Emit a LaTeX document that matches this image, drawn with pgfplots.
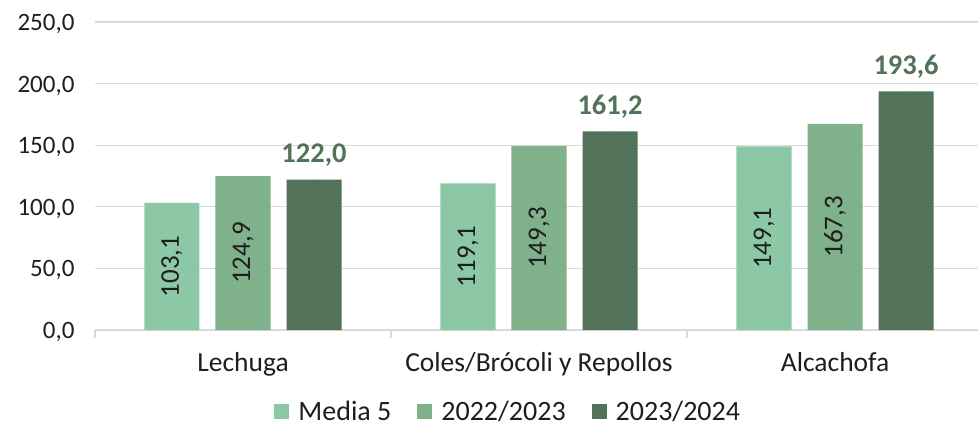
\documentclass[border=0pt]{standalone}
\usepackage{pgfplots}
\usepackage{pgfplotstable}
\pgfplotsset{compat=1.18}
\usepackage{fontspec}
\setmainfont{Carlito}
\definecolor{cA}{HTML}{8CC8A6}
\definecolor{cB}{HTML}{7FB18A}
\definecolor{cC}{HTML}{52735A}
\definecolor{gridc}{HTML}{D9D9D9}
\definecolor{txt}{HTML}{1E1E1E}
\pgfplotstableread{
x m5 a b
0 103.1 124.9 122.0
1 119.1 149.3 161.2
2 149.1 167.3 193.6
}\data
\begin{document}
\begin{tikzpicture}
\useasboundingbox (-95bp,-100bp) rectangle (883bp,330bp);
\begin{axis}[
  at={(0,0)}, anchor=south west,
  scale only axis, width=883bp, height=308bp,
  xmin=-0.5, xmax=2.483, ymin=0, ymax=250,
  axis x line*=bottom, axis y line*=left,
  y axis line style={draw=none},
  x axis line style={gridc, line width=1.2bp},
  ytick={0,50,...,250},
  ymajorgrids, grid style={gridc, line width=1.2bp},
  ytick style={draw=none},
  xtick={0,1,2},
  xticklabels={Lechuga, Coles/Brócoli y Repollos, Alcachofa},
  xtick style={draw=none},
  extra x ticks={-0.5,0.5,1.5},
  extra x tick labels={},
  extra x tick style={xtick style={draw=gridc, line width=1.2bp}, major tick length=8bp, tick align=outside, grid=none},
  yticklabel style={font=\fontsize{25bp}{30bp}\selectfont, text=txt, anchor=east, xshift=-17bp, yshift=-2bp},
  xticklabel style={font=\fontsize{27.5bp}{30bp}\selectfont, text=txt, anchor=base, yshift=-41bp},
  legend style={at={(0.468,-0.266)}, anchor=center, draw=none, fill=none,
    legend columns=3, font=\fontsize{28bp}{30bp}\selectfont, text=txt,
    /tikz/every even column/.append style={column sep=24bp}},
  legend image code/.code={\fill[#1] (0bp,-7bp) rectangle (15bp,8bp); \path (22bp,0bp);},
  /pgf/number format/assume math mode=true,
  /pgf/number format/use comma,
  /pgf/number format/fixed,
  /pgf/number format/fixed zerofill,
  /pgf/number format/precision=1,
  /pgf/number format/1000 sep={},
]
\addplot[ybar, fill=cA, draw=none, bar width=0.186, bar shift=-0.24] table[x=x, y=m5] {\data};
\addplot[ybar, fill=cB, draw=none, bar width=0.186, bar shift=0] table[x=x, y=a] {\data};
\addplot[ybar, fill=cC, draw=none, bar width=0.186, bar shift=0.24] table[x=x, y=b] {\data};
\legend{Media 5, 2022/2023, 2023/2024}
% rotated labels centred in the first two series' bars
\addplot[forget plot, only marks, mark=*, mark size=0pt, mark options={draw=none, fill=none},
  point meta=\thisrow{m5}, nodes near coords,
  every node near coord/.append style={rotate=90, anchor=center, text=txt,
    font=\fontsize{27bp}{30bp}\selectfont}]
  table[x expr=\thisrow{x}-0.24, y expr=\thisrow{m5}/2] {\data};
\addplot[forget plot, only marks, mark=*, mark size=0pt, mark options={draw=none, fill=none},
  point meta=\thisrow{a}, nodes near coords,
  every node near coord/.append style={rotate=90, anchor=center, text=txt,
    font=\fontsize{27bp}{30bp}\selectfont}]
  table[x expr=\thisrow{x}, y expr=\thisrow{a}/2] {\data};
% bold labels above the 2023/2024 bars
\addplot[forget plot, only marks, mark=*, mark size=0pt, mark options={draw=none, fill=none},
  point meta=\thisrow{b}, nodes near coords,
  every node near coord/.append style={anchor=south, text=cC,
    font=\bfseries\fontsize{28.5bp}{32bp}\selectfont, yshift=9.5bp}]
  table[x expr=\thisrow{x}+0.24, y=b] {\data};
\end{axis}
\end{tikzpicture}
\end{document}
